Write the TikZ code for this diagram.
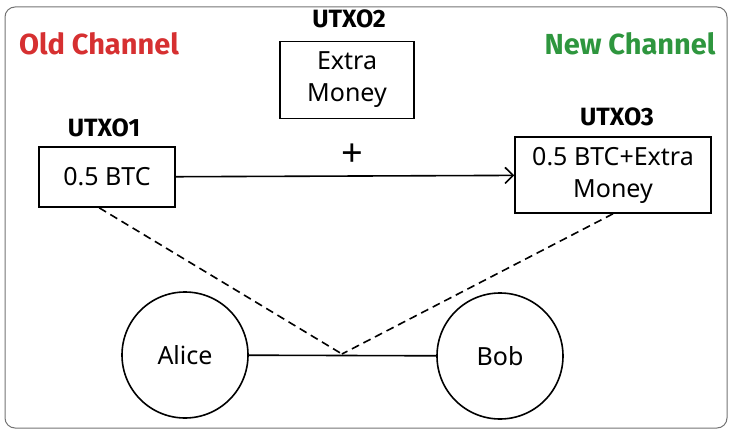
\documentclass[tikz,border=0pt]{standalone}
\usepackage{fontspec}
\setmainfont{Noto Sans}
\newfontfamily\headfont{Fira Sans}
\usetikzlibrary{shapes.geometric}
\usetikzlibrary{arrows.meta}
\definecolor{oldred}{RGB}{214,48,49}
\definecolor{newgreen}{RGB}{46,150,62}
\tikzset{
    utxobox/.style = {rectangle, draw=black, line width=1.6pt, align=center, inner sep=0pt, font=\fontsize{25}{32}\selectfont},
    utxolabel/.style = {font=\headfont\bfseries\fontsize{25}{28}\selectfont},
    chanlabel/.style = {font=\headfont\bfseries\fontsize{29}{32}\selectfont},
    party/.style = {circle, draw=black, line width=1.6pt, minimum size=126pt, inner sep=0pt, font=\fontsize{25}{28}\selectfont},
    link/.style = {line width=1.6pt},
    linkd/.style = {line width=1.6pt, dash pattern=on 8pt off 5pt},
}

\begin{document}
\begin{tikzpicture}[x=1pt,y=-1pt]
  \useasboundingbox (0,0) rectangle (734,436);
  \draw[rounded corners=10pt, draw=black!55, line width=1pt] (5,7) rectangle (727,428);
  % channel titles
  \node (oldch) at (99,44) [chanlabel,text=oldred] {Old Channel};
  \node (newch) at (630,44) [chanlabel,text=newgreen] {New Channel};
  % outputs
  \node (u1) at (107,177) [utxobox,minimum width=136pt,minimum height=60pt] {0.5 BTC};
  \node (u2) at (347,80) [utxobox,minimum width=134pt,minimum height=77pt] {Extra\\Money};
  \node (u3) at (613,175) [utxobox,minimum width=196pt,minimum height=76pt] {0.5 BTC+Extra\\Money};
  \node (l1) at (104,128) [utxolabel] {UTXO1};
  \node (l2) at (349,19) [utxolabel] {UTXO2};
  \node (l3) at (617,117) [utxolabel] {UTXO3};
  \node (plus) at (352,155) [font=\fontsize{38}{38}\selectfont] {+};
  % parties
  \node (alice) at (185,355) [party] {Alice};
  \node (bob) at (500,356) [party] {Bob};
  \coordinate (mid) at (342,354);
  \draw[link,-{Straight Barb[length=8pt,width=16pt]}] (u1) -- (u3);
  \draw[link] (alice) -- (bob);
  \draw[linkd] (u1.south west) ++(61,0) -- (mid);
  \draw[linkd] (u3.south) -- (mid);
\end{tikzpicture}
\end{document}
